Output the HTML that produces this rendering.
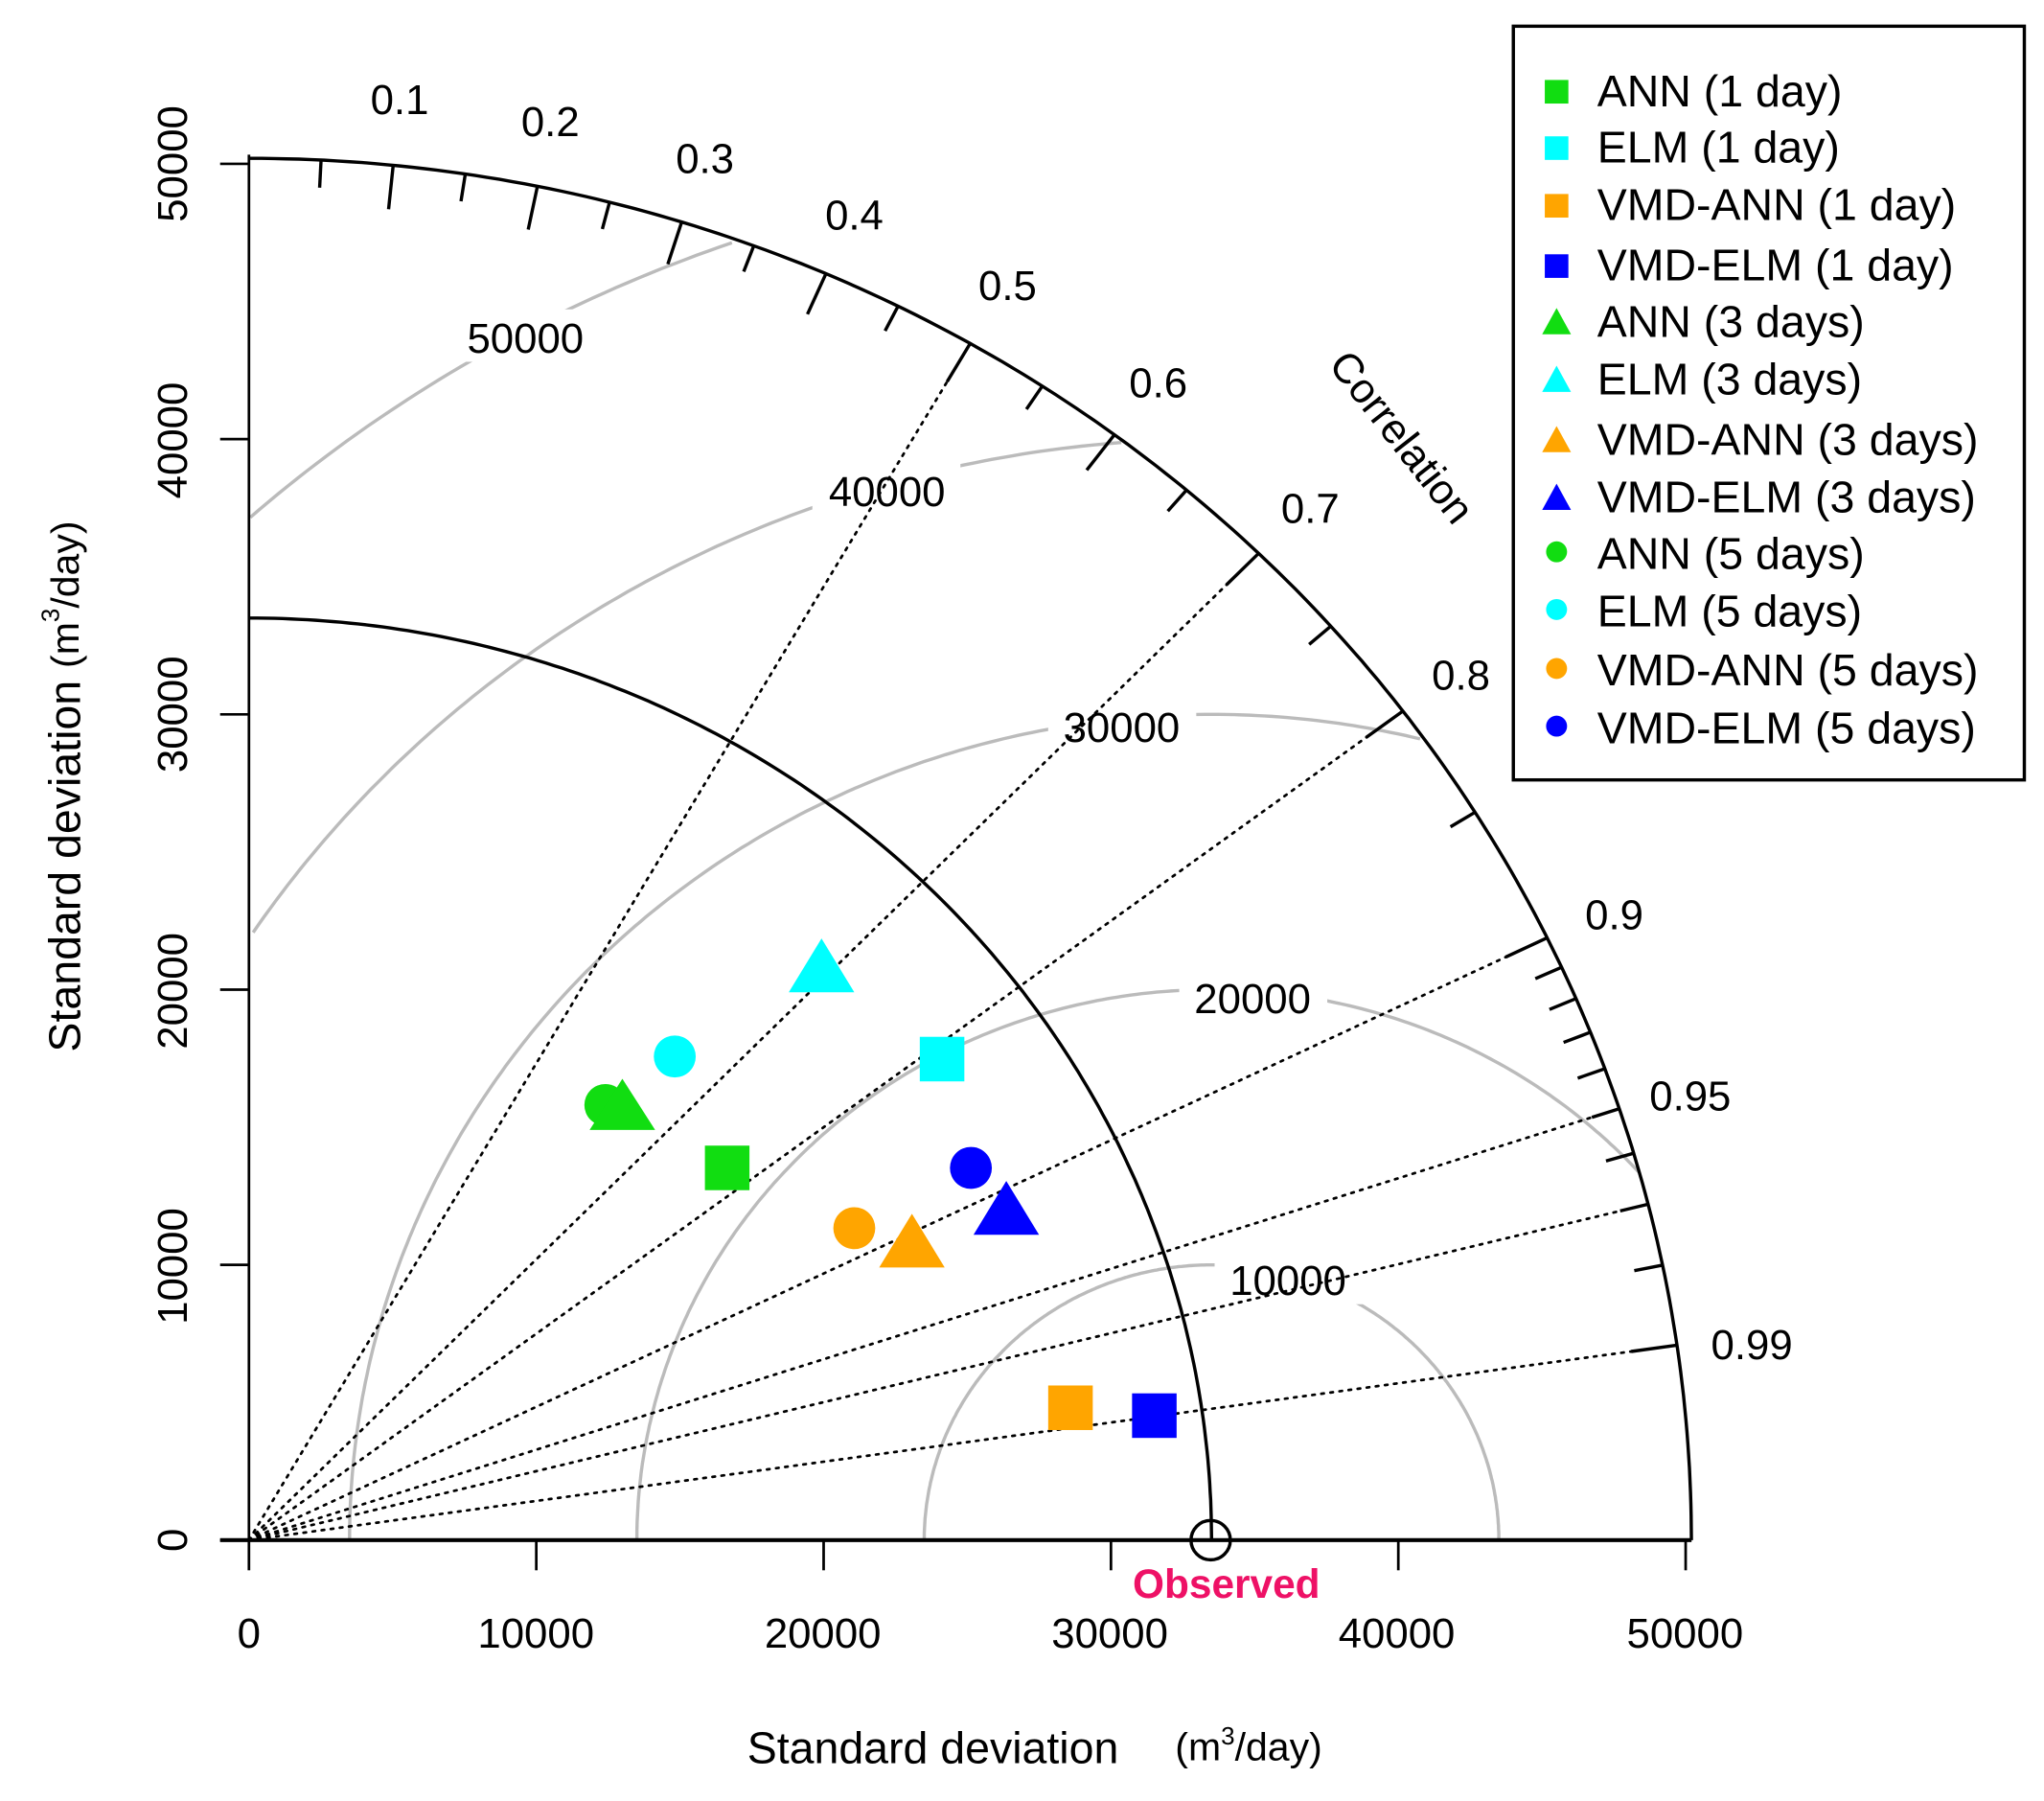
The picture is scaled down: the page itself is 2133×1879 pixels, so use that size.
<!DOCTYPE html>
<html><head><meta charset="utf-8"><style>
html,body{margin:0;padding:0;background:#fff}
svg{display:block}
text{font-family:"Liberation Sans",sans-serif;fill:#000}
</style></head><body>
<svg id="s" width="2133" height="1879" viewBox="0 0 1560 1374" preserveAspectRatio="none" xmlns="http://www.w3.org/2000/svg">
<rect width="1560" height="1374" fill="#fff"/>
<g id="geo"></g>
<g id="lbl" font-size="32">
<rect x="345" y="236" width="113" height="40" fill="#fff"/><text x="401" y="269" text-anchor="middle">50000</text>
<rect x="620" y="353" width="113" height="40" fill="#fff"/><text x="677" y="386" text-anchor="middle">40000</text>
<rect x="800" y="533" width="113" height="40" fill="#fff"/><text x="856" y="566" text-anchor="middle">30000</text>
<rect x="900" y="740" width="113" height="40" fill="#fff"/><text x="956" y="773" text-anchor="middle">20000</text>
<rect x="927" y="955" width="113" height="40" fill="#fff"/><text x="983" y="988" text-anchor="middle">10000</text>
</g>
<g id="front"></g>
<g font-size="32">
<text x="305" y="87" text-anchor="middle">0.1</text>
<text x="420" y="104" text-anchor="middle">0.2</text>
<text x="538" y="132" text-anchor="middle">0.3</text>
<text x="652" y="175" text-anchor="middle">0.4</text>
<text x="769" y="229" text-anchor="middle">0.5</text>
<text x="884" y="303" text-anchor="middle">0.6</text>
<text x="1000" y="399" text-anchor="middle">0.7</text>
<text x="1115" y="526" text-anchor="middle">0.8</text>
<text x="1232" y="709" text-anchor="middle">0.9</text>
<text x="1290" y="847" text-anchor="middle">0.95</text>
<text x="1337" y="1037" text-anchor="middle">0.99</text>
<text transform="translate(1068,335) rotate(52)" text-anchor="middle" dominant-baseline="middle">Correlation</text>
<text transform="translate(134,125) rotate(-90)" text-anchor="middle" dominant-baseline="middle">50000</text>
<text transform="translate(134,336) rotate(-90)" text-anchor="middle" dominant-baseline="middle">40000</text>
<text transform="translate(134,545) rotate(-90)" text-anchor="middle" dominant-baseline="middle">30000</text>
<text transform="translate(134,756) rotate(-90)" text-anchor="middle" dominant-baseline="middle">20000</text>
<text transform="translate(134,966) rotate(-90)" text-anchor="middle" dominant-baseline="middle">10000</text>
<text transform="translate(134,1175) rotate(-90)" text-anchor="middle" dominant-baseline="middle">0</text>
<text x="190" y="1257" text-anchor="middle">0</text>
<text x="409" y="1257" text-anchor="middle">10000</text>
<text x="628" y="1257" text-anchor="middle">20000</text>
<text x="847" y="1257" text-anchor="middle">30000</text>
<text x="1066" y="1257" text-anchor="middle">40000</text>
<text x="1286" y="1257" text-anchor="middle">50000</text>
<text x="712" y="1345" text-anchor="middle" font-size="34">Standard deviation</text>
<text x="953" y="1343" text-anchor="middle" font-size="30">(m<tspan dy="-12" font-size="19">3</tspan><tspan dy="12">/day)</tspan></text>
<text transform="translate(52,600) rotate(-90)" text-anchor="middle" dominant-baseline="middle" font-size="34">Standard deviation  <tspan font-size="30">(m<tspan dy="-12" font-size="19">3</tspan><tspan dy="12">/day)</tspan></tspan></text>
<text x="936" y="1219" text-anchor="middle" font-family="Liberation Serif,serif" font-weight="bold" font-size="31" style="fill:#ee1166">Observed</text>
</g>
<g>
<rect x="538" y="874" width="34" height="34" fill="#11dd11"/>
<rect x="702" y="791" width="34" height="34" fill="#00ffff"/>
<rect x="800" y="1057" width="34" height="34" fill="#ffa500"/>
<rect x="864" y="1063" width="34" height="34" fill="#0000ff"/>
<circle cx="462" cy="843" r="16" fill="#11dd11"/>
<polygon points="475,823 500,862 450,862" fill="#11dd11"/>
<polygon points="627,716 652,757 602,757" fill="#00ffff"/>
<polygon points="696,926 721,967 671,967" fill="#ffa500"/>
<polygon points="768,901 793,942 743,942" fill="#0000ff"/>
<circle cx="515" cy="806" r="16" fill="#00ffff"/>
<circle cx="652" cy="937" r="16" fill="#ffa500"/>
<circle cx="741" cy="891" r="16" fill="#0000ff"/>
<circle cx="924" cy="1175" r="15" fill="none" stroke="#000" stroke-width="2.5"/>
</g>
<g font-size="34">
<rect x="1155" y="20" width="390" height="575" fill="#fff" stroke="#000" stroke-width="2.5"/>
<rect x="1179" y="61" width="18" height="18" fill="#11dd11"/><text x="1219" y="81">ANN (1 day)</text>
<rect x="1179" y="104" width="18" height="18" fill="#00ffff"/><text x="1219" y="124">ELM (1 day)</text>
<rect x="1179" y="148" width="18" height="18" fill="#ffa500"/><text x="1219" y="168">VMD-ANN (1 day)</text>
<rect x="1179" y="194" width="18" height="18" fill="#0000ff"/><text x="1219" y="214">VMD-ELM (1 day)</text>
<polygon points="1188,235 1199,255 1177,255" fill="#11dd11"/><text x="1219" y="257">ANN (3 days)</text>
<polygon points="1188,279 1199,299 1177,299" fill="#00ffff"/><text x="1219" y="301">ELM (3 days)</text>
<polygon points="1188,325 1199,345 1177,345" fill="#ffa500"/><text x="1219" y="347">VMD-ANN (3 days)</text>
<polygon points="1188,369 1199,389 1177,389" fill="#0000ff"/><text x="1219" y="391">VMD-ELM (3 days)</text>
<circle cx="1188" cy="421" r="8" fill="#11dd11"/><text x="1219" y="434">ANN (5 days)</text>
<circle cx="1188" cy="465" r="8" fill="#00ffff"/><text x="1219" y="478">ELM (5 days)</text>
<circle cx="1188" cy="510" r="8" fill="#ffa500"/><text x="1219" y="523">VMD-ANN (5 days)</text>
<circle cx="1188" cy="554" r="8" fill="#0000ff"/><text x="1219" y="567">VMD-ELM (5 days)</text>
</g>
<script>
(function(){
var NS="http://www.w3.org/2000/svg",sx=0.02193,sy=0.0210,R=50200,OBS=33500;
function P(x,y){return [190+x*sx,1175-y*sy];}
function el(g,n,a){var e=document.createElementNS(NS,n);for(var k in a)e.setAttribute(k,a[k]);g.appendChild(e);return e;}
var geo=document.getElementById('geo'),fr=document.getElementById('front');
[10000,20000,30000,40000,50000].forEach(function(r){
  var pts=[];
  for(var t=0;t<=180;t+=0.5){var a=t*Math.PI/180,x=OBS+r*Math.cos(a),y=r*Math.sin(a);
    if(x>=0&&x*x+y*y<=R*R){var p=P(x,y);pts.push(p[0].toFixed(1)+","+p[1].toFixed(1));}}
  el(geo,'polyline',{points:pts.join(' '),fill:'none',stroke:'#bbb','stroke-width':2.5});
});
[0.5,0.7,0.8,0.9,0.95,0.97,0.99].forEach(function(c){
  var a=Math.acos(c),p=P(R*c,R*Math.sin(a));
  el(fr,'line',{x1:190,y1:1175,x2:p[0],y2:p[1],stroke:'#000','stroke-width':2,'stroke-dasharray':'2,5','stroke-linecap':'round'});
});
function arc(r,w){var pts=[];for(var t=0;t<=90;t+=0.5){var a=t*Math.PI/180,p=P(r*Math.cos(a),r*Math.sin(a));pts.push(p[0].toFixed(1)+","+p[1].toFixed(1));}
  el(fr,'polyline',{points:pts.join(' '),fill:'none',stroke:'#000','stroke-width':w});}
arc(R,2.5);arc(OBS,2.5);
var ticks=[];for(var i=1;i<=19;i++)ticks.push([i*0.05,i%2==0]);
[0.91,0.92,0.93,0.94,0.96,0.97,0.98,0.99].forEach(function(c){ticks.push([c,c==0.99]);});
ticks.forEach(function(t){var c=t[0],a=Math.acos(c),L=t[1]?0.032:0.02;
  var p1=P(R*c,R*Math.sin(a)),p2=P(R*(1-L)*c,R*(1-L)*Math.sin(a));
  el(fr,'line',{x1:p1[0],y1:p1[1],x2:p2[0],y2:p2[1],stroke:'#000','stroke-width':2.5});});
el(fr,'line',{x1:190,y1:1175,x2:190,y2:118,stroke:'#000','stroke-width':2});
el(fr,'line',{x1:168,y1:1175,x2:1291,y2:1175,stroke:'#000','stroke-width':3});
[0,10000,20000,30000,40000,50000].forEach(function(v){
  var x=190+v*sx;el(fr,'line',{x1:x,y1:1175,x2:x,y2:1198,stroke:'#000','stroke-width':2});
  var y=1175-v*sy;el(fr,'line',{x1:168,y1:y,x2:190,y2:y,stroke:'#000','stroke-width':2});});
})();
</script>
</svg>
</body></html>
